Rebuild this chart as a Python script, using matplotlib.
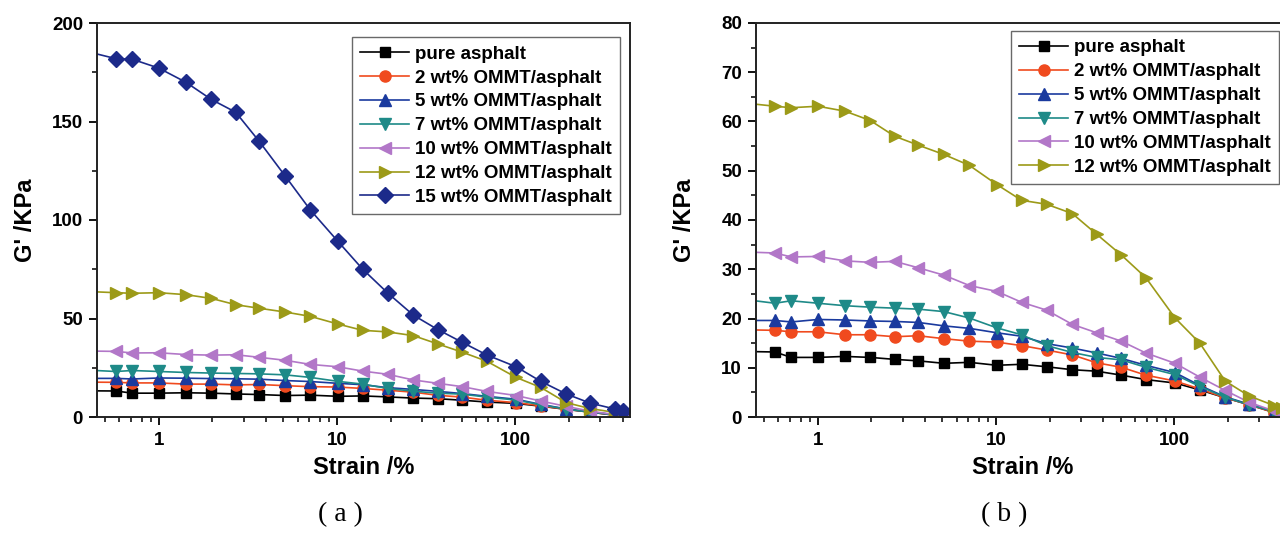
import matplotlib
matplotlib.use("Agg")
import matplotlib.pyplot as plt
from matplotlib.ticker import FixedLocator, FixedFormatter, AutoMinorLocator, LogLocator, NullFormatter

plt.rcParams['font.family'] = ['Liberation Sans', 'DejaVu Sans']
plt.rcParams['font.weight'] = 'bold'

# strain sweep points (first one sits just left of the axis, like the source plot)
strain = [0.4, 0.574, 0.71, 1.0, 1.42, 1.97, 2.70, 3.66, 5.1, 7.08, 10.1, 13.9,
          19.2, 26.8, 36.7, 50.4, 69.2, 101, 139, 193, 262, 364, 404]

g_pure = [13.3, 13.2, 12.1, 12.1, 12.3, 12.1, 11.7, 11.4, 10.9, 11.1, 10.5, 10.7,
          10.2, 9.6, 9.3, 8.5, 7.6, 6.9, 5.5, 3.9, 2.5, 0.9, 0.6]
g_2wt = [17.7, 17.6, 17.3, 17.3, 16.7, 16.7, 16.3, 16.5, 15.9, 15.4, 15.2, 14.5,
         13.6, 12.6, 11.0, 10.1, 8.5, 7.3, 5.7, 3.9, 2.5, 0.9, 0.6]
g_5wt = [19.6, 19.6, 19.3, 19.8, 19.7, 19.5, 19.4, 19.2, 18.5, 18.0, 17.1, 16.4,
         14.9, 14.0, 13.0, 11.9, 10.5, 9.0, 6.4, 4.1, 2.6, 1.1, 0.7]
g_7wt = [23.8, 23.1, 23.6, 23.1, 22.6, 22.3, 22.1, 21.9, 21.4, 20.1, 18.1, 16.7,
         14.5, 13.1, 12.1, 11.6, 10.1, 8.6, 6.2, 4.0, 2.5, 1.1, 0.7]
g_10wt = [33.5, 33.3, 32.5, 32.6, 31.7, 31.4, 31.6, 30.3, 28.8, 26.7, 25.5, 23.3,
          21.7, 18.8, 17.1, 15.4, 13.0, 10.9, 8.1, 5.4, 3.0, 1.2, 0.9]
g_12wt = [63.7, 63.1, 62.8, 63.1, 62.1, 60.2, 57.0, 55.2, 53.3, 51.1, 47.2, 44.0,
          43.2, 41.3, 37.1, 32.9, 28.3, 20.1, 15.0, 7.3, 4.3, 2.3, 1.9]
g_15wt = [185.4, 181.9, 181.6, 177.1, 169.9, 161.2, 154.7, 139.9, 122.5, 105.1, 89.2, 75.1,
          63.0, 51.7, 44.4, 37.9, 31.5, 25.5, 18.1, 11.7, 7.1, 4.0, 2.8]

labels = ['pure asphalt', '2 wt% OMMT/asphalt', '5 wt% OMMT/asphalt',
          '7 wt% OMMT/asphalt', '10 wt% OMMT/asphalt', '12 wt% OMMT/asphalt',
          '15 wt% OMMT/asphalt']
series = [g_pure, g_2wt, g_5wt, g_7wt, g_10wt, g_12wt, g_15wt]
colors = ['#000000', '#F04A1E', '#1A3A9E', '#1E8A88', '#B277C8', '#9C9A18', '#1C2A8A']
markers = ['s', 'o', '^', 'v', '<', '>', 'D']
msizes = [7, 8, 8, 8, 8, 8, 8]

W, H = 1280, 533
fig = plt.figure(figsize=(12.8, 5.33), dpi=100)
ax_a = fig.add_axes([97 / W, 1 - 417 / H, 533 / W, 394 / H])
ax_b = fig.add_axes([756 / W, 1 - 417 / H, 533 / W, 394 / H])


def style_axis(ax, ymax, ystep):
    ax.set_xscale('log')
    ax.set_xlim(0.45, 440)
    ax.set_ylim(0, ymax)
    ax.xaxis.set_major_locator(FixedLocator([1, 10, 100]))
    ax.xaxis.set_major_formatter(FixedFormatter(['1', '10', '100']))
    ax.xaxis.set_minor_locator(LogLocator(base=10, subs=range(2, 10)))
    ax.xaxis.set_minor_formatter(NullFormatter())
    ax.set_yticks(range(0, ymax + 1, ystep))
    ax.yaxis.set_minor_locator(AutoMinorLocator(2))
    ax.tick_params(which='major', direction='out', length=6, width=1.3,
                   labelsize=13.5, pad=4)
    ax.tick_params(which='minor', direction='out', length=3.5, width=1.1)
    ax.tick_params(axis='x', which='major', pad=5)
    for sp in ax.spines.values():
        sp.set_linewidth(1.4)
        sp.set_color('#222222')
    ax.set_xlabel('Strain /%', fontsize=17, fontweight='bold', labelpad=5)
    ax.set_ylabel("G' /KPa", fontsize=17, fontweight='bold')
    ax.yaxis.set_label_coords(-0.112, 0.5)


for ax, n, ymax, ystep, anchor, loc in [
        (ax_a, 7, 200, 50, (0.981, 0.964), 'upper right'),
        (ax_b, 6, 80, 10, (0.478, 0.980), 'upper left')]:
    for i in range(n):
        ax.plot(strain, series[i], color=colors[i], marker=markers[i],
                markersize=msizes[i], linewidth=1.2, label=labels[i])
    style_axis(ax, ymax, ystep)
    leg = ax.legend(loc=loc, bbox_to_anchor=anchor,
                    prop={'weight': 'bold', 'size': 13.5},
                    frameon=True, fancybox=False, handlelength=2.6,
                    handletextpad=0.3, labelspacing=0.36, borderpad=0.45,
                    borderaxespad=0)
    leg.get_frame().set_edgecolor('#444444')
    leg.get_frame().set_linewidth(1.0)

fig.text(340 / W, 1 - 515 / H, '( a )', ha='center', va='center',
         fontsize=20, family=['Liberation Serif', 'DejaVu Serif'],
         fontweight='normal')
fig.text(1004 / W, 1 - 515 / H, '( b )', ha='center', va='center',
         fontsize=20, family=['Liberation Serif', 'DejaVu Serif'],
         fontweight='normal')

fig.savefig('out.png', dpi=100)
